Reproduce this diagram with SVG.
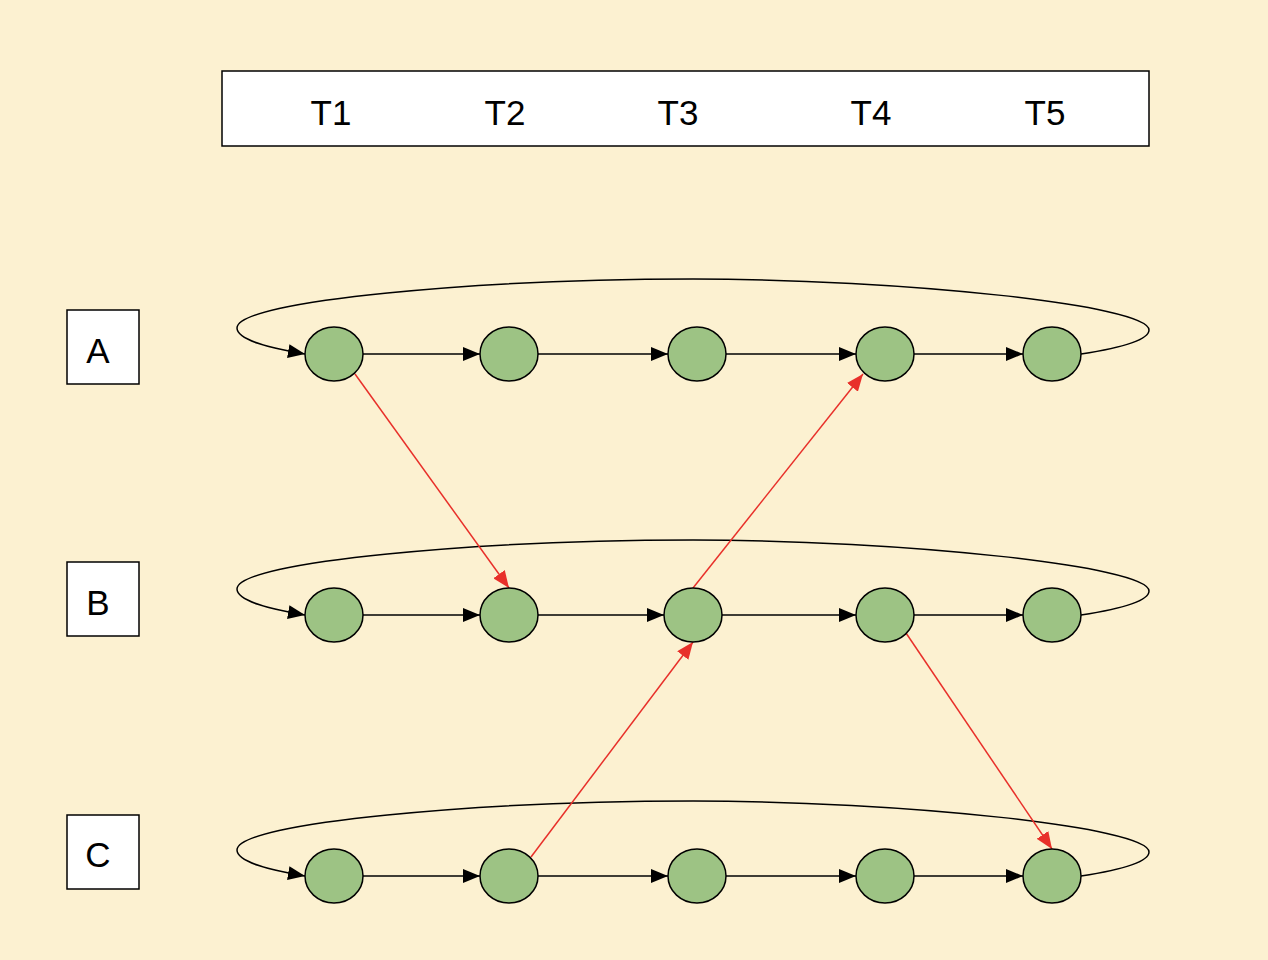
<svg xmlns="http://www.w3.org/2000/svg" width="1268" height="960" viewBox="0 0 1268 960">
<style>
.bg{fill:#FCF1D1}
.box{fill:#fff;stroke:#000;stroke-width:1.5}
.lbl{font-family:"Liberation Sans",Arial,sans-serif;font-size:35px;fill:#000;text-anchor:middle}
.nd{fill:#9DC384;stroke:#000;stroke-width:1.5}
.e{fill:none;stroke:#000;stroke-width:1.5;marker-end:url(#ab)}
.lp{fill:none;stroke:#000;stroke-width:1.5;marker-end:url(#ab)}
.r{fill:none;stroke:#E8302A;stroke-width:1.5;marker-end:url(#ar)}
</style>
<defs>
<marker id="ab" markerUnits="userSpaceOnUse" markerWidth="18" markerHeight="14" refX="17" refY="7" orient="auto"><path d="M0,0 L17,7 L0,14 z" fill="#000"/></marker>
<marker id="ar" markerUnits="userSpaceOnUse" markerWidth="18" markerHeight="14" refX="17" refY="7" orient="auto"><path d="M0,0 L17,7 L0,14 z" fill="#E8302A"/></marker>
</defs>
<rect class="bg" width="1268" height="960"/>
<g id="header"><rect class="box" x="222" y="71" width="927" height="75"/>
<text class="lbl" x="331" y="125">T1</text><text class="lbl" x="505" y="125">T2</text><text class="lbl" x="678" y="125">T3</text><text class="lbl" x="871" y="125">T4</text><text class="lbl" x="1045" y="125">T5</text></g>
<g id="labelA"><rect class="box" x="67" y="310" width="72" height="74"/><text class="lbl" x="98" y="363">A</text></g>
<g id="labelB"><rect class="box" x="67" y="562" width="72" height="74"/><text class="lbl" x="98" y="615">B</text></g>
<g id="labelC"><rect class="box" x="67" y="815" width="72" height="74"/><text class="lbl" x="98" y="867">C</text></g>
<g id="connectors">
<path class="lp" d="M1081,354 C1120,348 1149,340 1149,330 C1149,305 900,279 693,279 C486,279 237,300 237,328 C237,340 270,348 305,354"/>
<path class="lp" d="M1081,615 C1120,609 1149,601 1149,591 C1149,566 900,540 693,540 C486,540 237,561 237,589 C237,601 270,609 305,615"/>
<path class="lp" d="M1081,876 C1120,870 1149,862 1149,852 C1149,827 900,801 693,801 C486,801 237,822 237,850 C237,862 270,870 305,876"/>
<path class="e" d="M363,354 H480"/><path class="e" d="M538,354 H668"/><path class="e" d="M726,354 H856"/><path class="e" d="M914,354 H1023"/>
<path class="e" d="M363,615 H480"/><path class="e" d="M538,615 H664"/><path class="e" d="M722,615 H856"/><path class="e" d="M914,615 H1023"/>
<path class="e" d="M363,876 H480"/><path class="e" d="M538,876 H668"/><path class="e" d="M726,876 H856"/><path class="e" d="M914,876 H1023"/>
<path class="r" d="M355,374 L509,588"/>
<path class="r" d="M693,588 L863,374"/>
<path class="r" d="M531,857 L693,642"/>
<path class="r" d="M906,633 L1052,849"/>
</g>
<g id="nA1"><ellipse class="nd" cx="334" cy="354" rx="29" ry="27"/></g>
<g id="nA2"><ellipse class="nd" cx="509" cy="354" rx="29" ry="27"/></g>
<g id="nA3"><ellipse class="nd" cx="697" cy="354" rx="29" ry="27"/></g>
<g id="nA4"><ellipse class="nd" cx="885" cy="354" rx="29" ry="27"/></g>
<g id="nA5"><ellipse class="nd" cx="1052" cy="354" rx="29" ry="27"/></g>
<g id="nB1"><ellipse class="nd" cx="334" cy="615" rx="29" ry="27"/></g>
<g id="nB2"><ellipse class="nd" cx="509" cy="615" rx="29" ry="27"/></g>
<g id="nB3"><ellipse class="nd" cx="693" cy="615" rx="29" ry="27"/></g>
<g id="nB4"><ellipse class="nd" cx="885" cy="615" rx="29" ry="27"/></g>
<g id="nB5"><ellipse class="nd" cx="1052" cy="615" rx="29" ry="27"/></g>
<g id="nC1"><ellipse class="nd" cx="334" cy="876" rx="29" ry="27"/></g>
<g id="nC2"><ellipse class="nd" cx="509" cy="876" rx="29" ry="27"/></g>
<g id="nC3"><ellipse class="nd" cx="697" cy="876" rx="29" ry="27"/></g>
<g id="nC4"><ellipse class="nd" cx="885" cy="876" rx="29" ry="27"/></g>
<g id="nC5"><ellipse class="nd" cx="1052" cy="876" rx="29" ry="27"/></g>
</svg>
